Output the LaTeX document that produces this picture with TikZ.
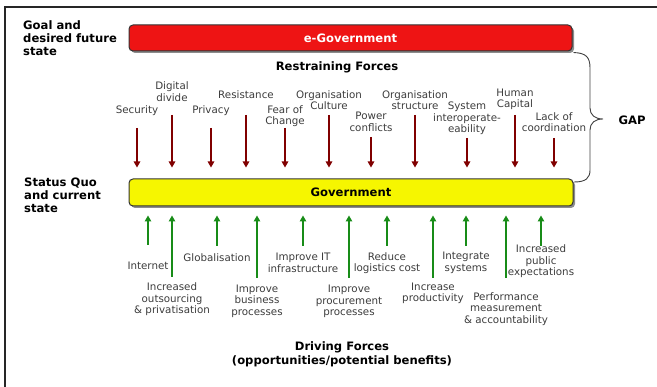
\documentclass[tikz,border=0pt]{standalone}
\usepackage{fontspec}
\setmainfont{DejaVu Sans}
\usetikzlibrary{arrows.meta,shadows}
\definecolor{barred}{RGB}{238,20,20}
\definecolor{baryellow}{RGB}{246,246,0}
\definecolor{rarrc}{RGB}{128,0,0}
\definecolor{garrc}{RGB}{24,140,24}
\definecolor{labc}{RGB}{60,60,60}
\tikzset{
  lab/.style={font=\fontsize{10.3}{11.6}\selectfont, text=labc, align=center, inner sep=0pt},
  boldlab/.style={font=\fontsize{11.6}{13}\selectfont\bfseries, text=black, inner sep=0pt},
  bar/.style={rounded corners=4pt, draw=black!80, line width=1pt,
    drop shadow={shadow xshift=2pt, shadow yshift=-2pt, fill=black!45, opacity=1}},
  rarr/.style={draw=rarrc, line width=1.2pt, -{Triangle[length=6pt,width=6.5pt]}, shorten >=11pt},
  garr/.style={draw=garrc, line width=1.2pt, -{Triangle[length=6pt,width=6.5pt]}, shorten >=9pt},
  frame/.style={draw=black!85, line width=1.6pt}
}
\newcommand{\rforce}[5]{%
  \node[lab] (#1) at (#2,#3) {#5};
  \coordinate (#1-s) at (#2,#4);
  \draw[rarr] (#1-s) -- (#1-s |- gov.north);}
\newcommand{\gforce}[5]{%
  \node[lab] (#1) at (#2,#3) {#5};
  \coordinate (#1-s) at (#2,#4);
  \draw[garr] (#1-s) -- (#1-s |- gov.south);}
\begin{document}
\begin{tikzpicture}[x=1pt,y=-1pt]
\useasboundingbox (0,0) rectangle (657,387);
\draw[frame] (5,390) coordinate (fbl) -- (5,7) coordinate (ftl) -- (660,7) coordinate (ftr);

% bars
\node[bar, fill=barred, minimum width=443pt, minimum height=26pt, inner sep=0pt] (egov) at (350.5,38) {};
\node[boldlab, text=white] (egovt) at (egov.center) {e-Government};
\node[bar, fill=baryellow, minimum width=444pt, minimum height=27pt, inner sep=0pt] (gov) at (351,192.5) {};
\node[boldlab] (govt) at (gov.center) {Government};

% left labels
\node[boldlab, anchor=west, align=left, font=\fontsize{11.6}{13}\selectfont\bfseries] (goal) at (23,38) {Goal and\\desired future\\state};
\node[boldlab, anchor=west, align=left, font=\fontsize{11.6}{13}\selectfont\bfseries] (sq) at (24,195) {Status Quo\\and current\\state};

\node[boldlab] (rf) at (337,67) {Restraining Forces};
\node[boldlab, align=center, font=\fontsize{11.6}{14}\selectfont\bfseries] (df) at (342,354) {Driving Forces\\(opportunities/potential benefits)};

% restraining forces
\rforce{sec}{137}{111}{128}{Security}
\rforce{dig}{172}{91.5}{115}{Digital\\divide}
\rforce{pri}{211}{111}{128}{Privacy}
\rforce{res}{246}{95}{115}{Resistance}
\rforce{foc}{285}{116}{128}{Fear of\\Change}
\rforce{ocu}{329}{100}{115}{Organisation\\Culture}
\rforce{pow}{371}{122}{137}{Power\\conflicts}
\rforce{ost}{415}{100}{115}{Organisation\\structure}
\rforce{sys}{467}{118.5}{138}{System\\interoperate-\\eability}
\rforce{hum}{515}{99.5}{115}{Human\\Capital}
\rforce{lac}{554}{122}{138}{Lack of\\coordination}

% driving forces
\gforce{int}{148}{266}{245}{Internet}
\gforce{out}{172}{299.5}{277}{Increased\\outsourcing\\\& privatisation}
\gforce{glo}{217}{258}{246}{Globalisation}
\gforce{ibp}{257}{301}{278}{Improve\\business\\processes}
\gforce{iit}{303}{263}{246}{Improve IT\\infrastructure}
\gforce{ipp}{349}{301.5}{278}{Improve\\procurement\\processes}
\gforce{rlc}{387}{263}{246}{Reduce\\logistics cost}
\gforce{inp}{433}{293.5}{278}{Increase\\productivity}
\gforce{ins}{466}{263}{246}{Integrate\\systems}
\gforce{pma}{506}{309}{278}{Performance\\measurement\\\& accountability}
\gforce{ipe}{541}{261.5}{246}{Increased\\public\\expectations}

% brace
\draw[black!75, line width=0.9pt] (egov.south east) ++(1,1) coordinate (b1)
  .. controls (586,53) and (590,57) .. (590,68) -- (590,108)
  .. controls (590,115) and (595,119) .. (603,119) coordinate (btip)
  .. controls (595,119) and (590,123) .. (590,130) -- (590,170)
  .. controls (590,178) and (586,182) .. (574,182) coordinate (b2);
\node[boldlab] (gap) at (632,120) {GAP};
\end{tikzpicture}
\end{document}
